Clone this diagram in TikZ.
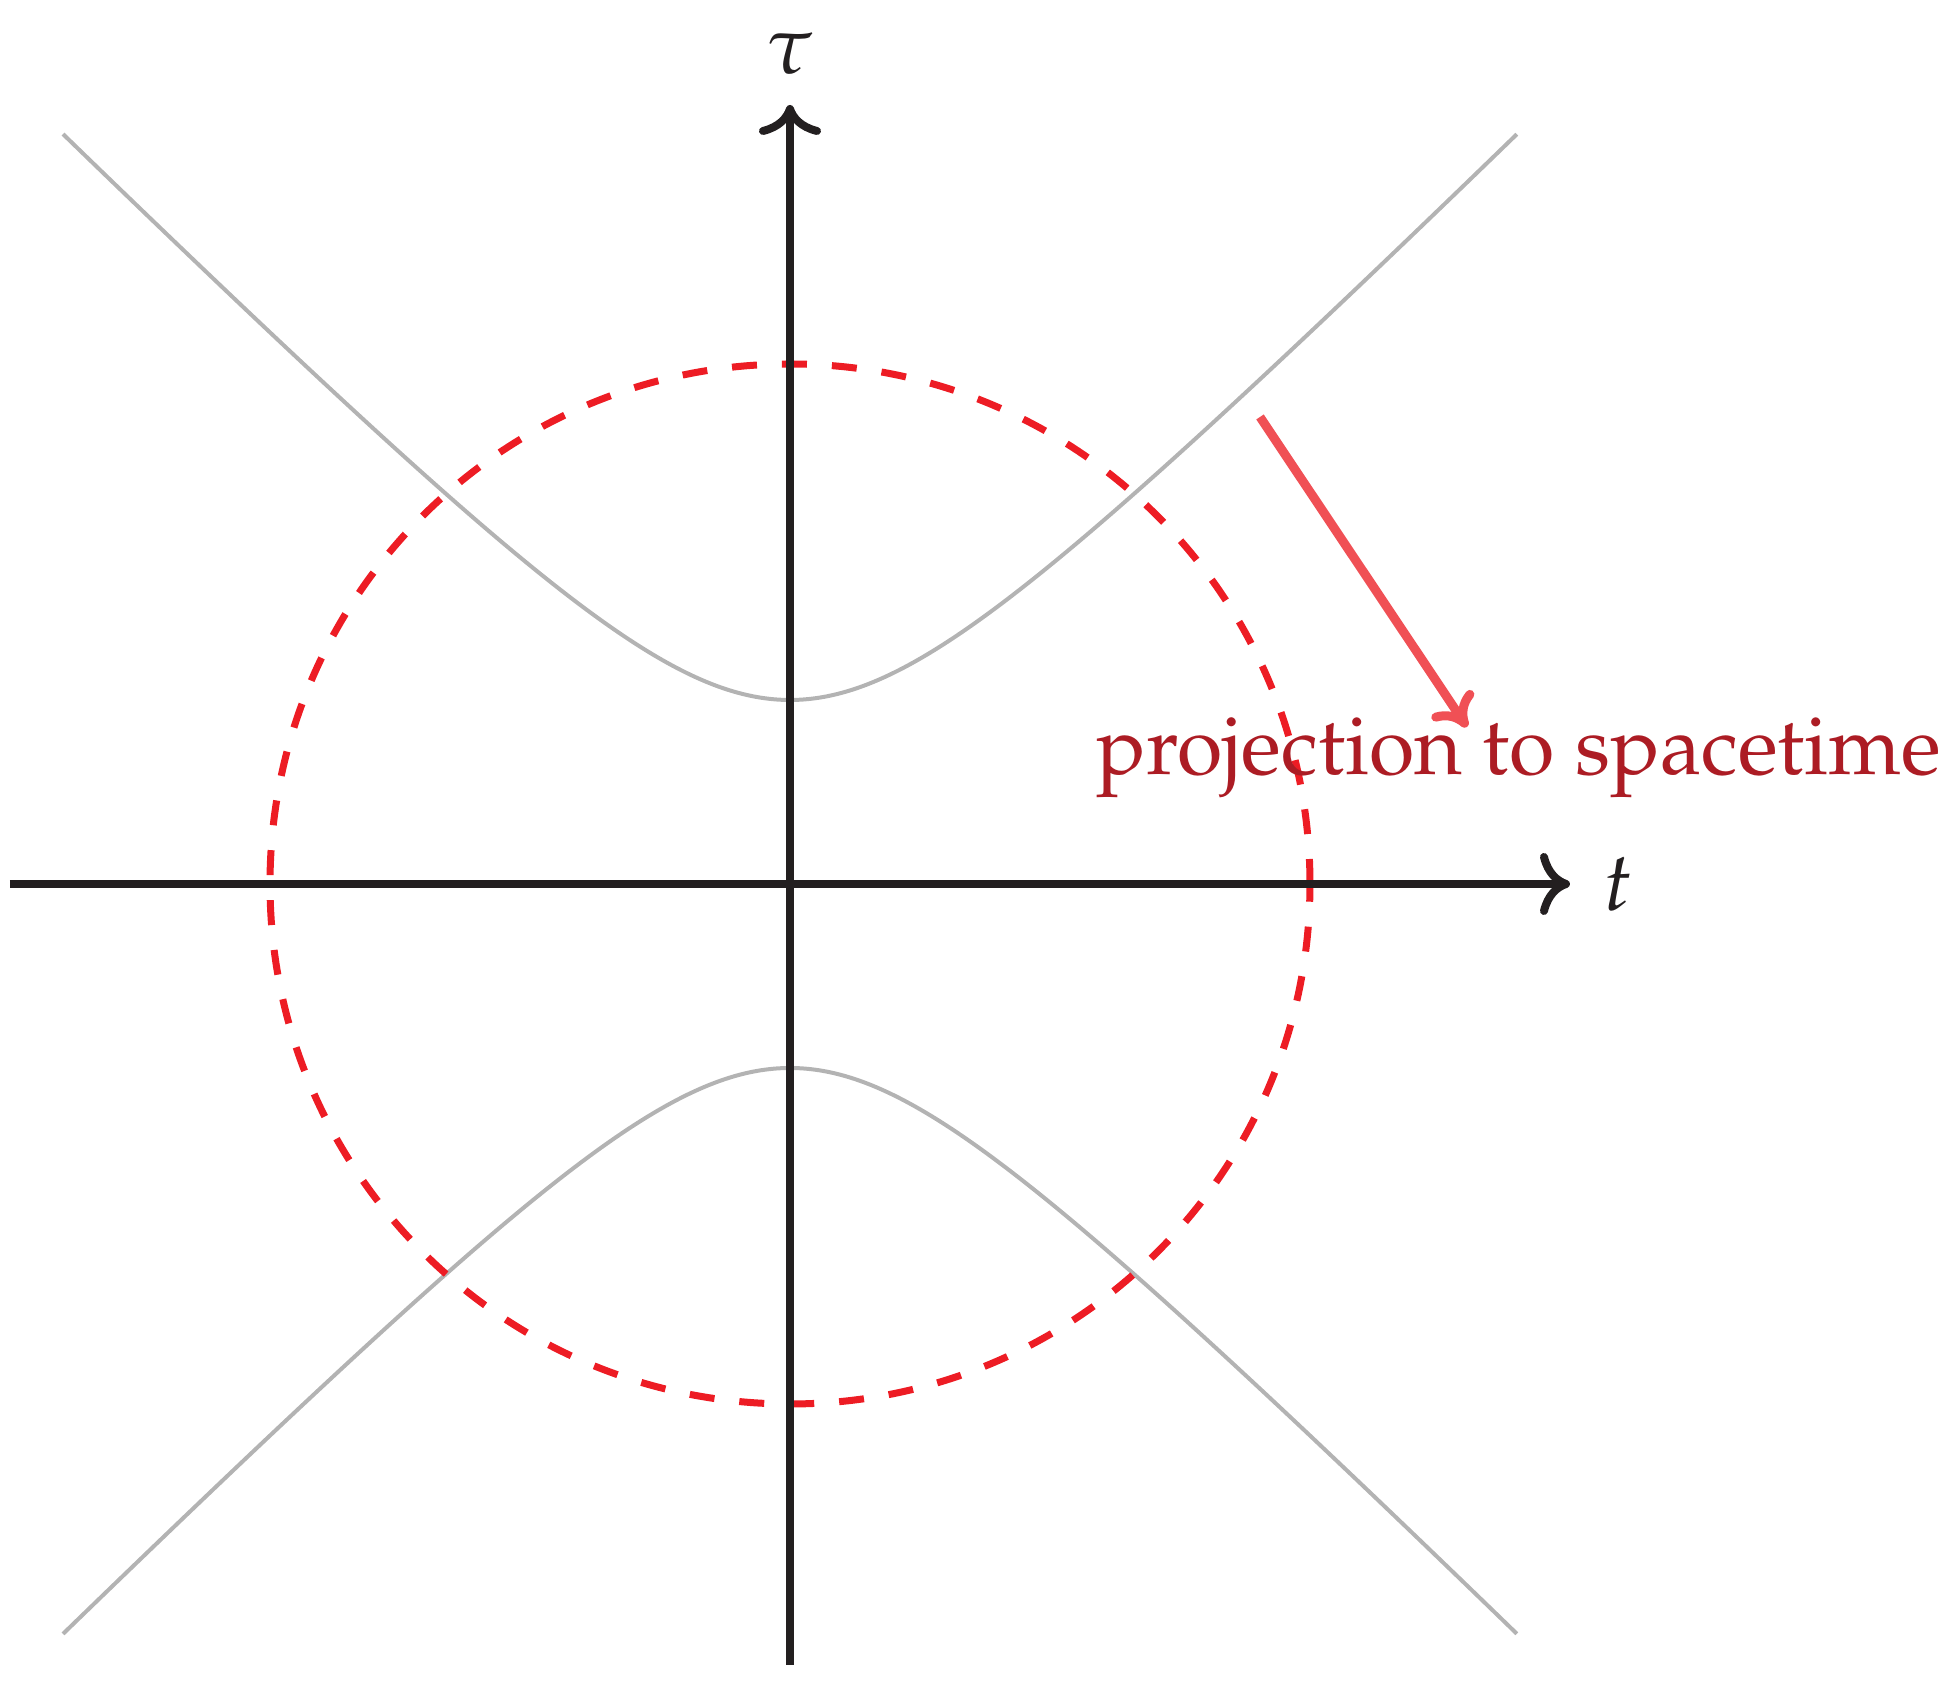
\documentclass[tikz,border=0pt]{standalone}
\usepackage[T1]{fontenc}
\usepackage{mathpazo}
\usetikzlibrary{arrows.meta}
\definecolor{axisc}{RGB}{35,31,32}
\definecolor{hypc}{RGB}{179,179,179}
\definecolor{circc}{RGB}{237,28,36}
\definecolor{arrc}{RGB}{240,80,85}
\definecolor{txtc}{RGB}{172,28,36}
\tikzset{
  axis/.style={draw=axisc, line width=0.08cm, -{To[length=0.3cm,width=0.62cm]}},
  hyp/.style={draw=hypc, line width=0.04cm},
  circ/.style={draw=circc, line width=0.07cm, dash pattern=on 0.25cm off 0.25cm},
  proj/.style={draw=arrc, line width=0.09cm, -{To[length=0.3cm,width=0.5cm]}},
  lbl/.style={inner sep=0pt, font=\fontsize{23.5}{28}\selectfont},
}
\begin{document}
\begin{tikzpicture}[x=1cm,y=1cm]
\useasboundingbox (-7.90,-8.11) rectangle (11.63,8.84);
% axes
\coordinate (tl) at (-7.80,0);
\coordinate (tr) at (7.80,0);
\coordinate (tb) at (0,-7.81);
\coordinate (tt) at (0,7.79);
% hyperbolas
\draw[hyp] plot[domain=-7.27:7.27, samples=201, smooth] (\x,{sqrt(\x*\x+1.84*1.84)});
\draw[hyp] plot[domain=-7.27:7.27, samples=201, smooth] (\x,{-sqrt(\x*\x+1.84*1.84)});
% circle
\node[circle, circ, minimum size=10.4cm, inner sep=0pt] (c) at (0,0) {};
\draw[axis] (tl) -- (tr);
\draw[axis] (tb) -- (tt);
\node[lbl, text=axisc] (tau) at (0,8.30) {$\tau$};
\node[lbl, text=axisc] (tlab) at (8.28,0) {$t$};
% projection arrow
\coordinate (ps) at (4.70,4.67);
\coordinate (pe) at (6.77,1.57);
\draw[proj] (ps) -- (pe);
\node[lbl, text=txtc, anchor=base west] (ptext) at (3.06,1.09) {projection to spacetime};
\end{tikzpicture}
\end{document}
